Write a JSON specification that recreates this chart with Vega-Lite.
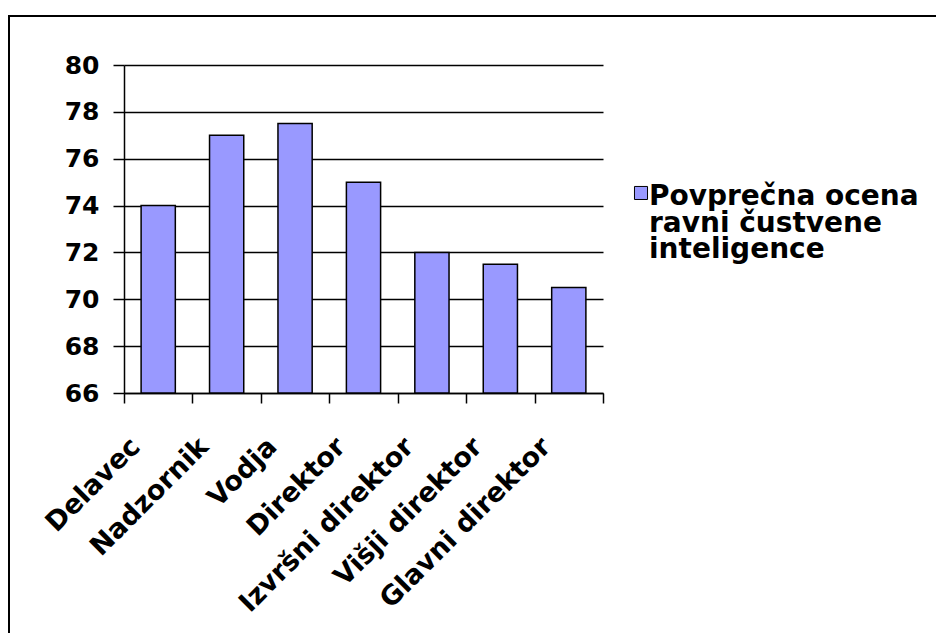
{
  "$schema": "https://vega.github.io/schema/vega-lite/v6.json",
  "width": 932,
  "height": 622,
  "autosize": {"type": "none"},
  "padding": {"left": 9, "top": 16, "right": -5, "bottom": -5},
  "background": "white",
  "config": {
    "view": {"stroke": "#000000", "strokeWidth": 2, "fill": "white"},
    "font": "DejaVu Sans",
    "style": {"guide-label": {"lineHeight": 26.5}}
  },
  "data": {
    "values": [
      {"pozicija": "Delavec", "ocena": 74, "serija": "Povprečna ocena ravni čustvene inteligence"},
      {"pozicija": "Nadzornik", "ocena": 77, "serija": "Povprečna ocena ravni čustvene inteligence"},
      {"pozicija": "Vodja", "ocena": 77.5, "serija": "Povprečna ocena ravni čustvene inteligence"},
      {"pozicija": "Direktor", "ocena": 75, "serija": "Povprečna ocena ravni čustvene inteligence"},
      {"pozicija": "Izvršni direktor", "ocena": 72, "serija": "Povprečna ocena ravni čustvene inteligence"},
      {"pozicija": "Višji direktor", "ocena": 71.5, "serija": "Povprečna ocena ravni čustvene inteligence"},
      {"pozicija": "Glavni direktor", "ocena": 70.5, "serija": "Povprečna ocena ravni čustvene inteligence"}
    ]
  },
  "mark": {"type": "bar", "stroke": "#000000", "strokeWidth": 1.5, "width": {"band": 0.5}},
  "encoding": {
    "x": {
      "field": "pozicija",
      "type": "nominal",
      "sort": null,
      "scale": {"range": [115, 594], "paddingInner": 0, "paddingOuter": 0},
      "axis": {
        "title": null,
        "orient": "bottom",
        "offset": -245,
        "tickBand": "extent",
        "tickSize": 10,
        "tickWidth": 1.5,
        "tickColor": "#000000",
        "domainColor": "#000000",
        "domainWidth": 1.5,
        "labelAngle": -45,
        "labelAlign": "right",
        "labelBaseline": "top",
        "labelFont": "DejaVu Sans",
        "labelFontWeight": "bold",
        "labelFontSize": 27,
        "labelColor": "#000000",
        "labelPadding": 30,
        "labelOffset": -32,
        "labelLimit": 400,
        "grid": false
      }
    },
    "y": {
      "field": "ocena",
      "type": "quantitative",
      "scale": {"domain": [66, 80], "range": [377, 49], "zero": false, "nice": false},
      "axis": {
        "title": null,
        "orient": "left",
        "offset": -115,
        "values": [66, 68, 70, 72, 74, 76, 78, 80],
        "grid": true,
        "gridColor": "#000000",
        "gridWidth": 1.5,
        "gridOpacity": 1,
        "tickSize": 11,
        "tickWidth": 1.5,
        "tickColor": "#000000",
        "domainColor": "#000000",
        "domainWidth": 1.5,
        "labelFont": "DejaVu Sans",
        "labelFontWeight": "bold",
        "labelFontSize": 25,
        "labelColor": "#000000",
        "labelPadding": 14
      }
    },
    "y2": {"datum": 66},
    "color": {
      "field": "serija",
      "type": "nominal",
      "scale": {"range": ["#9999FF"]},
      "legend": {
        "title": null,
        "orient": "none",
        "legendX": 618,
        "legendY": 153,
        "padding": 0,
        "symbolType": "M-1,0.53H1V2.53H-1Z",
        "symbolSize": 170,
        "symbolStrokeColor": "#000000",
        "symbolStrokeWidth": 1,
        "symbolFillColor": "#9999FF",
        "labelFont": "DejaVu Sans",
        "labelFontWeight": "bold",
        "labelFontSize": 28,
        "labelColor": "#000000",
        "labelLimit": 400,
        "labelOffset": -6,
        "labelBaseline": "top",
        "labelExpr": "['Povprečna ocena', 'ravni čustvene', 'inteligence']"
      }
    }
  }
}
